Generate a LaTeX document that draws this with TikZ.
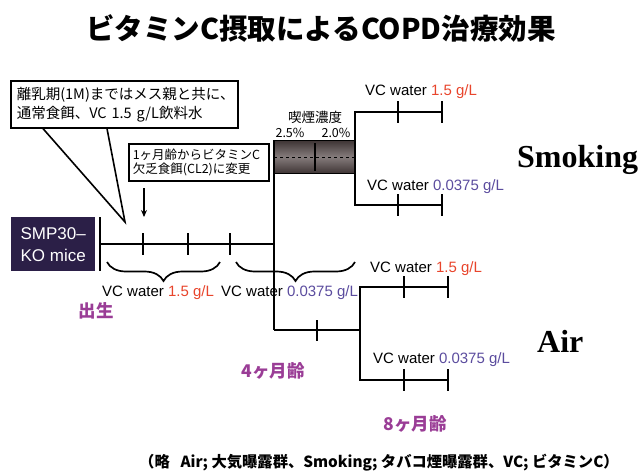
\documentclass[tikz,border=0pt]{standalone}
\usepackage{fontspec}
\setmainfont{Liberation Sans}
\newfontfamily\jp{Noto Sans CJK JP}
\newfontfamily\tms{Liberation Serif}
\usetikzlibrary{arrows.meta,decorations.pathreplacing}
\definecolor{vred}{HTML}{E8452C}
\definecolor{vblu}{HTML}{5B4C9E}
\definecolor{vpur}{HTML}{9A3D96}
\definecolor{navy}{HTML}{2B1F47}
\definecolor{smkd}{HTML}{3E3434}
\definecolor{smkl}{HTML}{857C7C}
\tikzset{
  x=1pt,y=-1pt,
  ln/.style={line width=1.8pt,black},
  tk/.style={line width=1.8pt,black},
  lbl/.style={anchor=base west,inner sep=0pt,font=\fontsize{15}{16}\selectfont},
  pl/.style={inner sep=0pt,text=vpur,font=\jp\bfseries\fontsize{17.5}{19}\selectfont},
  grp/.style={anchor=base west,inner sep=0pt,font=\tms\bfseries\fontsize{32}{34}\selectfont},
  brc/.style={line width=1.7pt,decorate,decoration={brace,mirror,amplitude=19pt}},
  callbox/.style={draw,line width=1.6pt,fill=white,anchor=north west,align=left},
}
\begin{document}
\begin{tikzpicture}
\useasboundingbox (0,0) rectangle (643,474);
% title
\node[inner sep=0pt,font=\jp\bfseries\fontsize{28.5}{30}\selectfont] (title) at (321,28) {ビタミンC摂取によるCOPD治療効果};
% callout 1
\node[callbox,minimum width=227pt,minimum height=47pt,text width=215pt,inner xsep=5pt,font=\jp\fontsize{14.5}{19}\selectfont] (box1) at (10,80) {離乳期(1M)まではメス親と共に、\\通常食餌、VC 1.5 g/L飲料水};
\coordinate (ptr) at (125,222);
\draw[line width=1.6pt] ([xshift=33pt]box1.south west) -- (ptr) -- ([xshift=97pt]box1.south west);
% callout 2
\node[callbox,minimum width=140pt,minimum height=37pt,text width=132pt,inner xsep=4pt,inner ysep=2pt,font=\jp\fontsize{12.5}{14.5}\selectfont] (box2) at (128,143) {1ヶ月齢からビタミンC\\欠乏食餌(CL2)に変更};
\coordinate (ar1) at (144,188);
\coordinate (ar2) at (144,217);
\draw[line width=1.5pt,-{Stealth[length=7pt,width=6pt]}] (ar1) -- (ar2);
% mice box
\node[fill=navy,anchor=north west,minimum width=84pt,minimum height=54pt,inner sep=0pt,text=white,align=center,font=\fontsize{17}{22}\selectfont] (smp) at (11,217) {SMP30–\\KO mice};
% timeline
\coordinate (t0a) at (100,217); \coordinate (t0b) at (100,271);
\draw[ln] (t0a) -- (t0b);
\coordinate (t0) at (100,244);
\coordinate (tj) at (274,244);
\draw[ln] (t0) -- (tj);
\foreach \xx in {143,188,230} \draw[tk] (\xx,233) -- (\xx,255);
% braces
\draw[brc] (107,262) -- (220,262);
\draw[brc] (236,262) -- (355,262);
\node[lbl] (lw1) at (102,296) {VC water \textcolor{vred}{1.5 g/L}};
\node[lbl] (lw2) at (221,296) {VC water \textcolor{vblu}{0.0375 g/L}};
% smoke box
\node[draw=black,line width=0.8pt,anchor=north west,minimum width=81pt,minimum height=33pt,inner sep=0pt,top color=smkd,bottom color=smkd,middle color=smkl] (smoke) at (274,140) {};
\draw[dashed,line width=0.6pt] (smoke.west) -- (smoke.east);
\draw[line width=1.6pt] ([yshift=-3pt]smoke.north) -- ([yshift=3pt]smoke.south);
\node[inner sep=0pt,font=\jp\fontsize{13.5}{15}\selectfont] (kitsu) at (315,117) {喫煙濃度};
\node[inner sep=0pt,font=\jp\fontsize{12.5}{14}\selectfont] (c25) at (290,133) {2.5\%};
\node[inner sep=0pt,font=\jp\fontsize{12.5}{14}\selectfont] (c20) at (336,133) {2.0\%};
% vertical to air
\coordinate (vb) at (274,330);
\draw[ln] (smoke.south west) -- (vb);
\draw[ln] (smoke.north west) -- (tj);
% smoking branch
\coordinate (s1) at (355,112); \coordinate (s2) at (355,205);
\coordinate (s1e) at (442,112); \coordinate (s2e) at (442,205);
\draw[ln] (s1e) -- (s1) -- (s2) -- (s2e);
\foreach \yy in {112,205} {\draw[tk] (398,\yy-11) -- (398,\yy+11); \draw[tk] (442,\yy-11) -- (442,\yy+11);}
\node[lbl] (ls1) at (365,95) {VC water \textcolor{vred}{1.5 g/L}};
\node[lbl] (ls2) at (367,190) {VC water \textcolor{vblu}{0.0375 g/L}};
\node[grp] (smk) at (517,167) {Smoking};
% air branch
\coordinate (a0) at (360,330);
\coordinate (a1) at (360,287); \coordinate (a2) at (360,380);
\coordinate (a1e) at (448,287); \coordinate (a2e) at (448,380);
\draw[ln] (vb) -- (a0);
\draw[tk] (317,320) -- (317,341);
\draw[ln] (a1e) -- (a1) -- (a2) -- (a2e);
\foreach \yy in {287,380} {\draw[tk] (404,\yy-11) -- (404,\yy+11); \draw[tk] (448,\yy-11) -- (448,\yy+11);}
\node[lbl] (la1) at (370,272) {VC water \textcolor{vred}{1.5 g/L}};
\node[lbl] (la2) at (373,363) {VC water \textcolor{vblu}{0.0375 g/L}};
\node[grp] (air) at (537,352) {Air};
% ages
\node[pl] (birth) at (96,311) {出生};
\node[pl] (m4) at (273,371) {4ヶ月齢};
\node[pl] (m8) at (415,424) {8ヶ月齢};
% footer
\node[inner sep=0pt,font=\jp\bfseries\fontsize{15.3}{17}\selectfont] (foot) at (379,463) {（略\hspace{0.7em}Air; 大気曝露群、Smoking; タバコ煙曝露群、VC; ビタミンC）};
\end{tikzpicture}
\end{document}
